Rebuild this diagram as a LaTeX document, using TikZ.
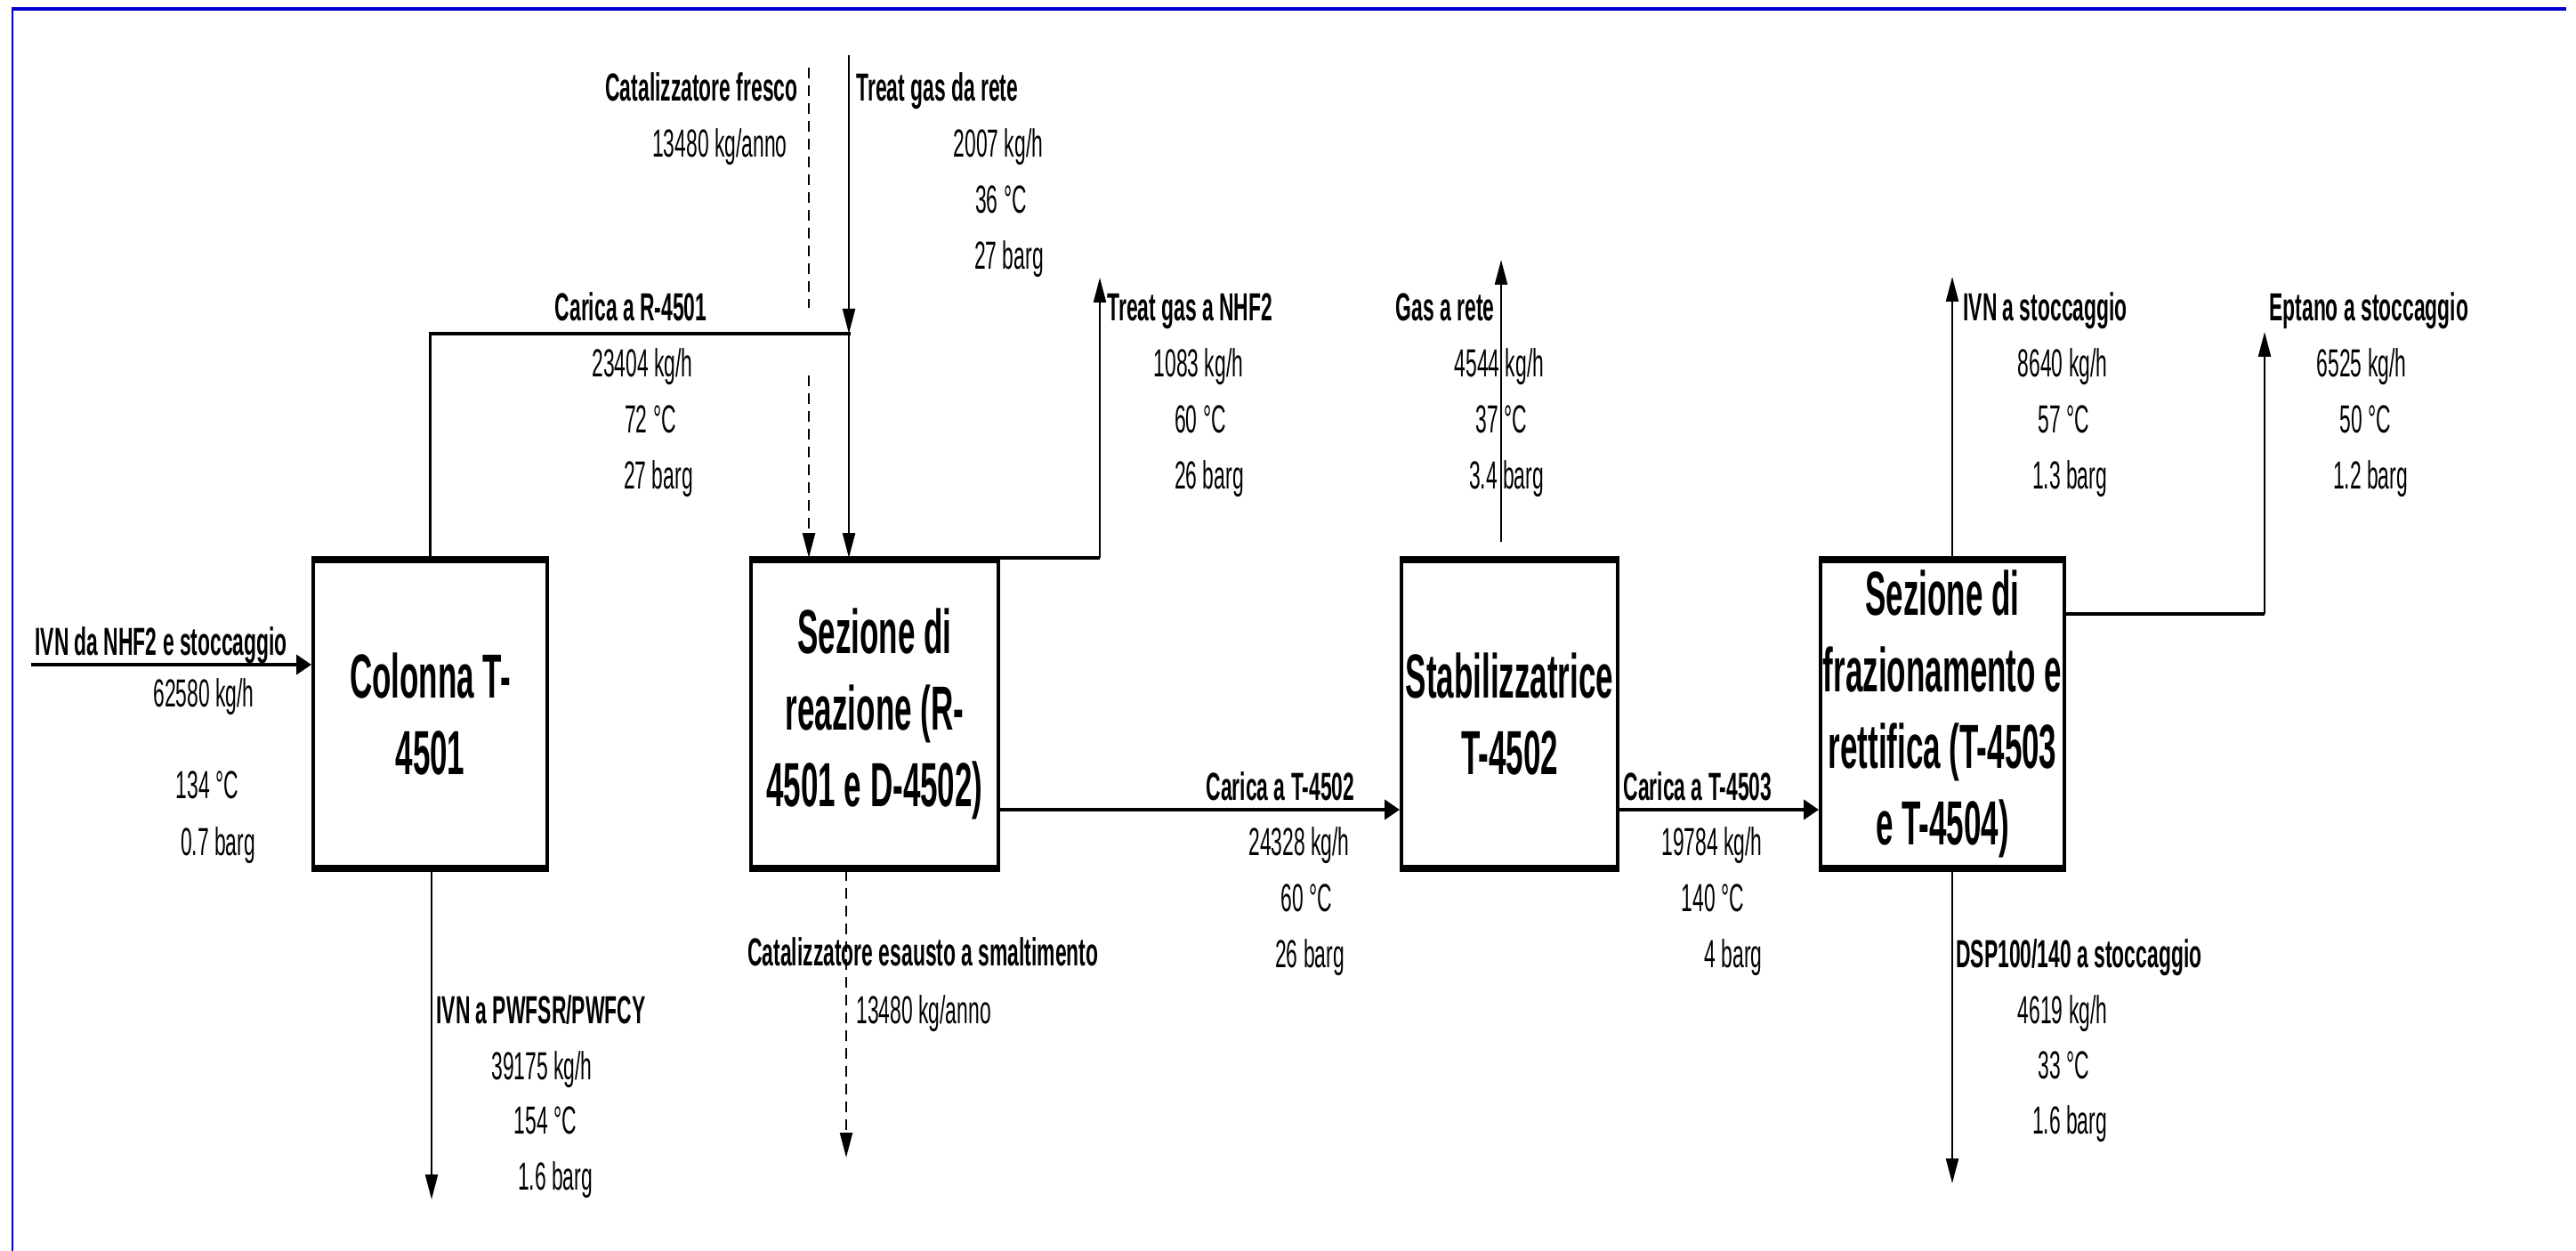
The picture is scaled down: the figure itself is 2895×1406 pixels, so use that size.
\documentclass[tikz,border=0pt]{standalone}
\usepackage{fontspec}
\usetikzlibrary{arrows.meta,calc}
\newfontfamily\lblfont[FakeStretch=0.52]{Liberation Sans}
\newfontfamily\boxfont[FakeStretch=0.5]{Liberation Sans}
\definecolor{framecol}{RGB}{0,0,204}
\begin{document}
\begin{tikzpicture}[x=0.5pt,y=-0.5pt,
  lbl/.style={font=\lblfont\bfseries\fontsize{22}{26}\selectfont, inner sep=0},
  dat/.style={font=\lblfont\fontsize{22}{26}\selectfont, inner sep=0, anchor=base},
  unit/.style={draw, line width=2pt, inner sep=0, align=center, minimum height=173.5pt,
    font=\boxfont\bfseries\fontsize{35}{43}\selectfont},
  bar/.style={line width=4pt},
  vline/.style={line width=1.15pt},
  hline/.style={line width=2pt},
  varr/.style={-{Triangle[length=14pt,width=7pt]}},
  harr/.style={-{Triangle[length=8.5pt,width=11pt]}},
  dline/.style={vline, dash pattern=on 6pt off 4pt},
  frameline/.style={draw=framecol}]
\useasboundingbox (0,0) rectangle (2895,1406);
% frame
\draw[frameline, line width=2.15pt] (12.5,10) -- (2884,10);
\draw[frameline, line width=1.15pt] (14,8) -- (14,1406);

% units
\node[unit, minimum width=131.5pt] (col) at (483.5,802.5) {Colonna T-\\4501};
\node[unit, minimum width=139pt] (rea) at (983,802.5) {Sezione di\\reazione (R-\\4501 e D-4502)};
\node[unit, minimum width=121.5pt] (sta) at (1696.5,802.5) {Stabilizzatrice\\T-4502};
\node[unit, minimum width=137pt] (fra) at (2183,802.5) {Sezione di\\frazionamento e\\rettifica (T-4503\\e T-4504)};
\foreach \u in {col,rea,sta,fra}{
  \draw[bar] ([yshift=-1pt]\u.north west) -- ([yshift=-1pt]\u.north east);
  \draw[bar] ([yshift=1pt]\u.south west) -- ([yshift=1pt]\u.south east);
}

% coordinates
\coordinate (inS) at (35,747);
\coordinate (jn) at (954,375);
\coordinate (tgtop) at (954,62);
\coordinate (cfA) at (909,76);
\coordinate (cfB) at (909,346);
\coordinate (cfC) at (909,422);
\coordinate (nhf) at (1236,312);
\coordinate (h1) at (0,910);
\coordinate (gasT) at (1687,292);
\coordinate (gasB) at (1687,609);
\coordinate (ivnT) at (2194,311);
\coordinate (eptT) at (2545,373);
\coordinate (eptY) at (0,690);
\coordinate (dspB) at (2194,1330);
\coordinate (pwB) at (485,1348);
\coordinate (ceB) at (951,1301);

% connectors
\draw[hline, harr] (inS) -- (inS -| col.west);
\draw[vline] (col.north) -- (col.north |- jn);
\draw[hline, line cap=rect] (col.north |- jn) -- (jn);
\draw[vline, varr] (tgtop) -- (jn);
\draw[vline, varr] (jn) -- (jn |- rea.north);
\draw[dline] (cfA) -- (cfB);
\draw[dline, varr] (cfC) -- (cfC |- rea.north);
\draw[hline] (rea.north east) -- (nhf |- rea.north east);
\draw[vline, varr] (nhf |- rea.north east) -- (nhf);
\draw[hline, harr] (h1 -| rea.east) -- (h1 -| sta.west);
\draw[hline, harr] (h1 -| sta.east) -- (h1 -| fra.west);
\draw[vline, varr] (gasB) -- (gasT);
\draw[vline, varr] (ivnT |- fra.north) -- (ivnT);
\draw[hline] (eptY -| fra.east) -- (eptY -| eptT);
\draw[vline, varr] (eptY -| eptT) -- (eptT);
\draw[vline, varr] (dspB |- fra.south) -- (dspB);
\draw[vline, varr] (pwB |- col.south) -- (pwB);
\draw[dline, varr] (ceB |- rea.south) -- (ceB);

% labels
\node[lbl, anchor=base east] (t1) at (897,114) {Catalizzatore fresco};
\node[dat, anchor=base east] (t2) at (885,177) {13480 kg/anno};
\node[lbl, anchor=base west] (t3) at (962,114) {Treat gas da rete};
\node[dat] (t4) at (1122,177) {2007 kg/h};
\node[dat] (t5) at (1125,240) {36 °C};
\node[dat] (t6) at (1134,303) {27 barg};

\node[lbl, anchor=base] (t7) at (709,361) {Carica a R-4501};
\node[dat] (t8) at (722,424) {23404 kg/h};
\node[dat] (t9) at (731,487) {72 °C};
\node[dat] (t10) at (740,550) {27 barg};

\node[lbl, anchor=base west] (t11) at (1244,361) {Treat gas a NHF2};
\node[dat] (t12) at (1347,424) {1083 kg/h};
\node[dat] (t13) at (1349,487) {60 °C};
\node[dat] (t14) at (1359,550) {26 barg};

\node[lbl, anchor=base east] (t15) at (1680,361) {Gas a rete};
\node[dat] (t16) at (1685,424) {4544 kg/h};
\node[dat] (t17) at (1687,487) {37 °C};
\node[dat] (t18) at (1693,550) {3.4 barg};

\node[lbl, anchor=base west] (t19) at (2206,361) {IVN a stoccaggio};
\node[dat] (t20) at (2318,424) {8640 kg/h};
\node[dat] (t21) at (2319,487) {57 °C};
\node[dat] (t22) at (2326,550) {1.3 barg};

\node[lbl, anchor=base west] (t23) at (2550,361) {Eptano a stoccaggio};
\node[dat] (t24) at (2654,424) {6525 kg/h};
\node[dat] (t25) at (2658,487) {50 °C};
\node[dat] (t26) at (2664,550) {1.2 barg};

\node[lbl, anchor=base west] (t27) at (39,736) {IVN da NHF2 e stoccaggio};
\node[dat] (t28) at (229,794) {62580 kg/h};
\node[dat] (t29) at (233,897) {134 °C};
\node[dat] (t30) at (245,961) {0.7 barg};

\node[lbl, anchor=base] (t31) at (1439,899) {Carica a T-4502};
\node[dat] (t32) at (1460,961) {24328 kg/h};
\node[dat] (t33) at (1468,1024) {60 °C};
\node[dat] (t34) at (1472,1087) {26 barg};

\node[lbl, anchor=base] (t35) at (1908,899) {Carica a T-4503};
\node[dat] (t36) at (1924,961) {19784 kg/h};
\node[dat] (t37) at (1925,1024) {140 °C};
\node[dat] (t38) at (1948,1087) {4 barg};

\node[lbl, anchor=base west] (t39) at (840,1085) {Catalizzatore esausto a smaltimento};
\node[dat, anchor=base west] (t40) at (962,1150) {13480 kg/anno};

\node[lbl, anchor=base west] (t41) at (490,1150) {IVN a PWFSR/PWFCY};
\node[dat] (t42) at (609,1213) {39175 kg/h};
\node[dat] (t43) at (613,1274) {154 °C};
\node[dat] (t44) at (624,1337) {1.6 barg};

\node[lbl, anchor=base west] (t45) at (2198,1087) {DSP100/140 a stoccaggio};
\node[dat] (t46) at (2318,1150) {4619 kg/h};
\node[dat] (t47) at (2319,1212) {33 °C};
\node[dat] (t48) at (2326,1274) {1.6 barg};
\end{tikzpicture}
\end{document}
